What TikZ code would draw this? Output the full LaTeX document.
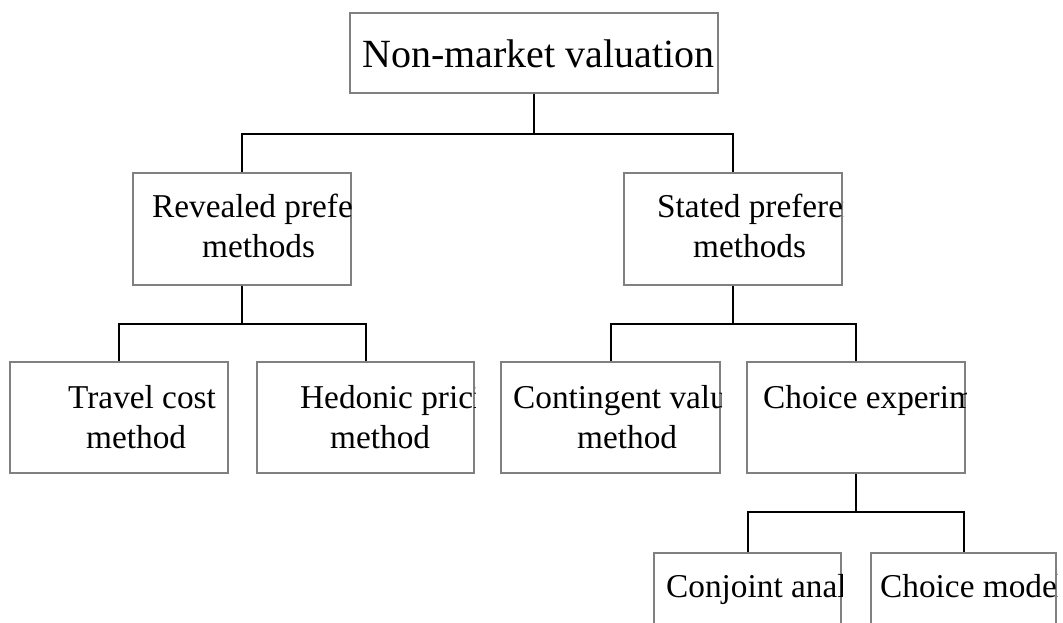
\documentclass[tikz,border=0pt]{standalone}
\usepackage{fontspec}
\setmainfont{Liberation Serif}
\definecolor{boxgray}{RGB}{128,128,128}
\tikzset{
  box/.style={draw=boxgray, line width=2pt, inner sep=0pt},
  conn/.style={draw=black, line width=2pt},
  big/.style={font=\fontsize{40}{48}\selectfont, anchor=base west, inner sep=0pt},
  lbl/.style={font=\fontsize{33.3}{40}\selectfont, anchor=base west, inner sep=0pt},
}
\begin{document}
\begin{tikzpicture}[x=1pt,y=-1pt]
\useasboundingbox[fill=white] (0,0) rectangle (1063,622);
% boxes
\node[box, minimum width=368pt, minimum height=80pt] (top) at (534,53) {};
\node[box, minimum width=218pt, minimum height=112pt] (rev) at (242,229) {};
\node[box, minimum width=218pt, minimum height=112pt] (sta) at (733,229) {};
\node[box, minimum width=218pt, minimum height=111pt] (trav) at (119,417.5) {};
\node[box, minimum width=217pt, minimum height=111pt] (hed) at (365.5,417.5) {};
\node[box, minimum width=219pt, minimum height=111pt] (cont) at (610.5,417.5) {};
\node[box, minimum width=218pt, minimum height=111pt] (cho) at (856,417.5) {};
\node[box, minimum width=187pt, minimum height=100pt] (conj) at (747.5,603) {};
\node[box, minimum width=185pt, minimum height=100pt] (cmod) at (963.5,603) {};
% connectors
\draw[conn] (top.south) -- (top.south |- 0,134) -| (rev.north);
\draw[conn] (top.south |- 0,134) -| (sta.north);
\draw[conn] (rev.south) -- (rev.south |- 0,324) -| (trav.north);
\draw[conn] (rev.south |- 0,324) -| (hed.north);
\draw[conn] (sta.south) -- (sta.south |- 0,324) -| (cont.north);
\draw[conn] (sta.south |- 0,324) -| (cho.north);
\draw[conn] (cho.south) -- (cho.south |- 0,512) -| (conj.north);
\draw[conn] (cho.south |- 0,512) -| (cmod.north);
% texts (clipped at the box edges)
\begin{scope}\clip (top.south west) rectangle (top.north east);
\node[big] (ttop) at (362,67) {Non-market valuation};
\end{scope}
\begin{scope}\clip (rev.south west) rectangle (rev.north east);
\node[lbl] (trev1) at (152,217) {Revealed preference};
\node[lbl] (trev2) at (202,257) {methods};
\end{scope}
\begin{scope}\clip (sta.south west) rectangle (sta.north east);
\node[lbl] (tsta1) at (657,217) {Stated preference};
\node[lbl] (tsta2) at (693,257) {methods};
\end{scope}
\begin{scope}\clip (trav.south west) rectangle (trav.north east);
\node[lbl] (ttrav1) at (68,408) {Travel cost};
\node[lbl] (ttrav2) at (86,448) {method};
\end{scope}
\begin{scope}\clip (hed.south west) rectangle (hed.north east);
\node[lbl] (thed1) at (300,408) {Hedonic pricing};
\node[lbl] (thed2) at (330,448) {method};
\end{scope}
\begin{scope}\clip (cont.south west) rectangle (cont.north east);
\node[lbl] (tcont1) at (513,408) {Contingent valuation};
\node[lbl] (tcont2) at (577,448) {method};
\end{scope}
\begin{scope}\clip (cho.south west) rectangle (cho.north east);
\node[lbl] (tcho1) at (763,408) {Choice experiment};
\end{scope}
\begin{scope}\clip (conj.south west) rectangle (conj.north east);
\node[lbl] (tconj1) at (666,597) {Conjoint analysis};
\end{scope}
\begin{scope}\clip (cmod.south west) rectangle (cmod.north east);
\node[lbl] (tcmod1) at (880,597) {Choice modelling};
\end{scope}
\end{tikzpicture}
\end{document}
